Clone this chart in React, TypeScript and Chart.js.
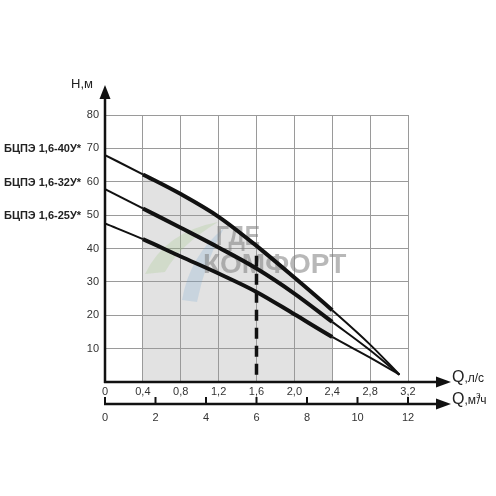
import React, { useEffect, useRef } from 'react';
import { Chart, registerables } from 'chart.js';

Chart.register(...registerables);

// ---- data ----
const flowLs = [0, 0.4, 0.8, 1.2, 1.6, 2.0, 2.4, 2.8, 3.11];
const head40 = [68, 62.2, 56.3, 49.5, 40.8, 31.3, 21.5, 11.2, 2.2];
const head32 = [57.8, 52, 46.2, 40.3, 34, 26.5, 18, 9.5, 2.2];
const head25 = [47.5, 42.8, 37.6, 32.5, 27, 20.3, 13.5, 7.3, 2.2];
const modelNames = ['БЦПЭ 1,6-40У*', 'БЦПЭ 1,6-32У*', 'БЦПЭ 1,6-25У*'];
const modelLabelHeights = [70, 60, 50];
const workRange = [0.4, 2.4];
const dutyFlow = 1.6;
const dutyHead = 37.8;
const flowTicks = [0, 0.4, 0.8, 1.2, 1.6, 2.0, 2.4, 2.8, 3.2];
const flowM3Ticks = [0, 2, 4, 6, 8, 10, 12];
const headTicks = [0, 10, 20, 30, 40, 50, 60, 70, 80];
const watermarkTop = 'ГДЕ';
const watermarkBottom = 'КОМФОРТ';

const FONT = '"Liberation Sans", Arial, sans-serif';

export default function App() {
  const ref = useRef<HTMLCanvasElement>(null);

  useEffect(() => {
    const canvas = ref.current;
    if (!canvas) return;

    const pts = (hs: number[]) => flowLs.map((q, i) => ({ x: q, y: hs[i] }));
    const inWork = (q: number) => q >= workRange[0] - 1e-9 && q <= workRange[1] + 1e-9;
    const thick = (c: any) =>
      inWork(flowLs[c.p0DataIndex]) && inWork(flowLs[c.p1DataIndex]) ? 4 : 2;
    const curve = (hs: number[]) => ({
      data: pts(hs),
      borderColor: '#111',
      borderWidth: 2,
      pointRadius: 0,
      fill: false,
      cubicInterpolationMode: 'monotone' as const,
      segment: { borderWidth: thick },
    });

    const decor = {
      id: 'decor',
      beforeDatasetsDraw(chart: any) {
        const { ctx } = chart;
        ctx.save();
        // faint logo
        ctx.fillStyle = 'rgba(150,195,120,0.22)';
        ctx.beginPath();
        ctx.moveTo(145, 274);
        ctx.quadraticCurveTo(165, 232, 218, 222);
        ctx.quadraticCurveTo(180, 245, 165, 272);
        ctx.closePath();
        ctx.fill();
        ctx.fillStyle = 'rgba(110,165,210,0.22)';
        ctx.beginPath();
        ctx.moveTo(182, 300);
        ctx.quadraticCurveTo(190, 255, 224, 228);
        ctx.quadraticCurveTo(205, 262, 197, 302);
        ctx.closePath();
        ctx.fill();
        ctx.fillStyle = 'rgba(125,125,125,0.55)';
        ctx.textBaseline = 'alphabetic';
        ctx.textAlign = 'left';
        ctx.font = `bold 27px ${FONT}`;
        ctx.save();
        ctx.translate(216, 245);
        ctx.scale(0.85, 1);
        ctx.fillText(watermarkTop, 0, 0);
        ctx.restore();
        ctx.font = `bold 28px ${FONT}`;
        ctx.fillText(watermarkBottom, 203, 273);
        ctx.restore();
      },
      afterDraw(chart: any) {
        const { ctx, chartArea, scales } = chart;
        const { left, bottom } = chartArea;
        const y2 = bottom + 22;
        ctx.save();
        ctx.strokeStyle = '#111';
        ctx.fillStyle = '#111';
        ctx.lineWidth = 2.5;
        ctx.lineCap = 'butt';
        const line = (a: number, b: number, c: number, d: number) => {
          ctx.beginPath();
          ctx.moveTo(a, b);
          ctx.lineTo(c, d);
          ctx.stroke();
        };
        // y axis
        line(left, bottom + 1, left, 96);
        ctx.beginPath();
        ctx.moveTo(left, 85);
        ctx.lineTo(left - 5.5, 99);
        ctx.lineTo(left + 5.5, 99);
        ctx.closePath();
        ctx.fill();
        // x axis (л/с)
        line(left - 1, bottom, 437, bottom);
        ctx.beginPath();
        ctx.moveTo(451, bottom);
        ctx.lineTo(436, bottom - 5.5);
        ctx.lineTo(436, bottom + 5.5);
        ctx.closePath();
        ctx.fill();
        // x2 axis (м3/ч)
        line(left - 1, y2, 437, y2);
        ctx.beginPath();
        ctx.moveTo(451, y2);
        ctx.lineTo(436, y2 - 5.5);
        ctx.lineTo(436, y2 + 5.5);
        ctx.closePath();
        ctx.fill();
        ctx.lineWidth = 2;
        for (const t of scales.x2.ticks) {
          const px = scales.x2.getPixelForValue(t.value);
          line(px, y2, px, y2 - 7);
        }
        // axis titles
        ctx.textBaseline = 'alphabetic';
        ctx.textAlign = 'left';
        ctx.fillStyle = '#222';
        ctx.font = `13px ${FONT}`;
        ctx.fillText('Н,м', 71, 88);
        ctx.font = `16px ${FONT}`;
        ctx.fillText('Q', 452, bottom);
        const w = ctx.measureText('Q').width;
        ctx.font = `12px ${FONT}`;
        ctx.fillText(',л/с', 452 + w, bottom);
        ctx.font = `16px ${FONT}`;
        ctx.fillText('Q', 452, y2);
        ctx.font = `12px ${FONT}`;
        const m = ',м';
        ctx.fillText(m, 452 + w, y2);
        const w2 = ctx.measureText(m).width;
        ctx.font = `8px ${FONT}`;
        ctx.fillText('3', 452 + w + w2, y2 - 6);
        ctx.font = `12px ${FONT}`;
        ctx.fillText('/ч', 452 + w + w2 + 1, y2);
        // model labels
        ctx.font = `bold 11px ${FONT}`;
        ctx.fillStyle = '#222';
        ctx.textBaseline = 'middle';
        modelNames.forEach((name, i) => {
          ctx.fillText(name, 4, scales.y.getPixelForValue(modelLabelHeights[i]) + 1);
        });
        ctx.restore();
      },
    };

    const tickFont = { family: FONT, size: 11 };

    const chart = new Chart(canvas, {
      type: 'line',
      data: {
        datasets: [
          {
            data: pts(head40).filter((p) => inWork(p.x)),
            borderWidth: 0,
            borderColor: 'rgba(0,0,0,0)',
            backgroundColor: '#e2e2e2',
            fill: 'origin',
            pointRadius: 0,
            cubicInterpolationMode: 'monotone',
          },
          curve(head40),
          curve(head32),
          curve(head25),
          {
            data: [
              { x: dutyFlow, y: dutyHead },
              { x: dutyFlow, y: 0 },
            ],
            borderColor: '#111',
            borderWidth: 3.5,
            borderDash: [11, 7],
            pointRadius: 0,
            fill: false,
          },
        ] as any,
      },
      options: {
        animation: false,
        responsive: false,
        layout: { padding: { top: 115, right: 88, bottom: 0, left: 0 } },
        plugins: {
          legend: { display: false },
          tooltip: { enabled: false },
          filler: { drawTime: 'beforeDraw' },
        } as any,
        scales: {
          x: {
            type: 'linear',
            position: 'bottom',
            weight: 0,
            min: 0,
            max: 3.2,
            afterBuildTicks: (s: any) => {
              s.ticks = flowTicks.map((v) => ({ value: v }));
            },
            afterFit: (s: any) => {
              s.height = 22;
            },
            grid: { color: '#9a9a9a', lineWidth: 1, drawTicks: false },
            border: { display: false },
            ticks: {
              callback: (v: any) => (v === 0 ? '0' : Number(v).toFixed(1).replace('.', ',')),
              font: tickFont,
              color: '#333',
              padding: 3,
              maxRotation: 0,
              autoSkip: false,
            },
          },
          x2: {
            type: 'linear',
            position: 'bottom',
            weight: 1,
            min: 0,
            max: 12,
            afterBuildTicks: (s: any) => {
              s.ticks = flowM3Ticks.map((v) => ({ value: v }));
            },
            afterFit: (s: any) => {
              s.height = 92;
            },
            grid: { display: false, drawTicks: false },
            border: { display: false },
            ticks: {
              font: tickFont,
              color: '#333',
              padding: 7,
              maxRotation: 0,
              autoSkip: false,
            },
          },
          y: {
            type: 'linear',
            min: 0,
            max: 80,
            afterBuildTicks: (s: any) => {
              s.ticks = headTicks.map((v) => ({ value: v }));
            },
            afterFit: (s: any) => {
              s.width = 105;
            },
            grid: { color: '#9a9a9a', lineWidth: 1, drawTicks: false },
            border: { display: false },
            ticks: {
              callback: (v: any) => (v === 0 ? '' : String(v)),
              font: tickFont,
              color: '#333',
              padding: 6,
            },
          },
        } as any,
      },
      plugins: [decor],
    });

    return () => chart.destroy();
  }, []);

  return (
    <div style={{ position: 'fixed', left: 0, top: 0, width: 496, height: 496, background: '#fff' }}>
      <canvas ref={ref} width={496} height={496} />
    </div>
  );
}
